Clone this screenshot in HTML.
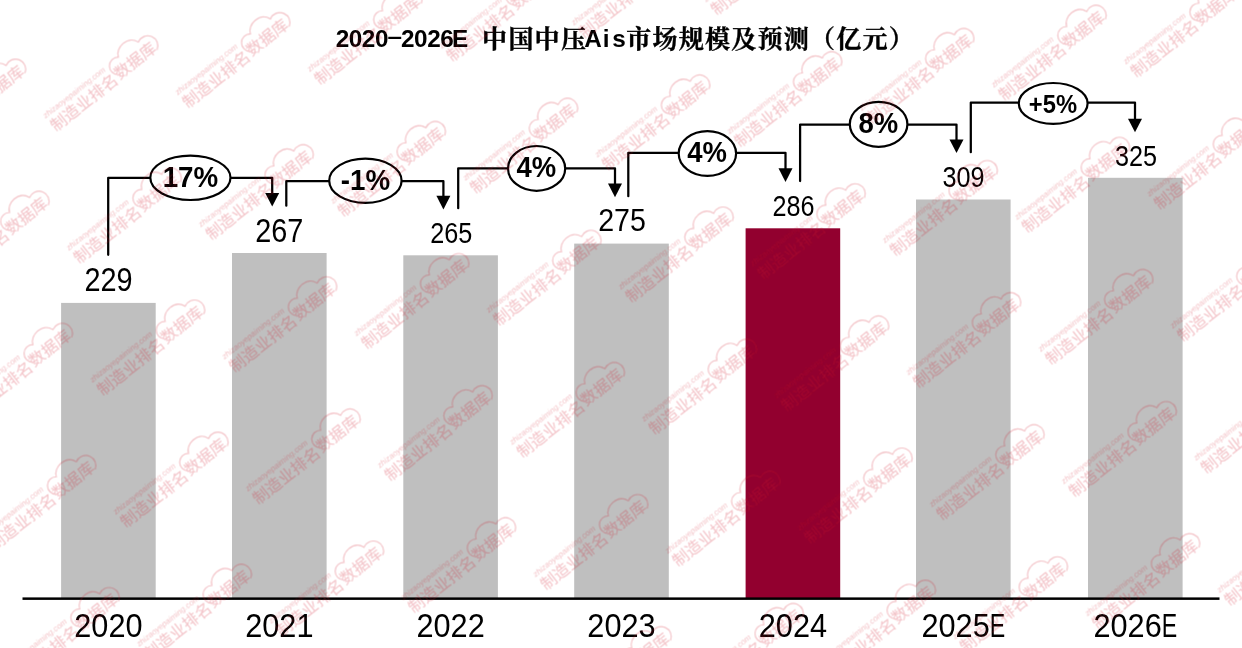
<!DOCTYPE html>
<html lang="zh-CN">
<head>
<meta charset="utf-8">
<title>2020-2026E 中国中压Ais市场规模及预测（亿元）</title>
<style>
html,body{margin:0;padding:0;background:#fff;}
body{width:1242px;height:648px;overflow:hidden;}
svg{display:block;}
.ax{font-family:"Liberation Sans","Noto Sans CJK SC",sans-serif;fill:#000;}
.dl{font-family:"Liberation Sans","Noto Sans CJK SC",sans-serif;fill:#000;}
.pc{font-family:"Liberation Sans","Noto Sans CJK SC",sans-serif;font-weight:bold;fill:#000;}
.tt{font-family:"Liberation Sans","Noto Serif CJK SC",serif;font-weight:bold;fill:#000;}
.wm{font-family:"Liberation Sans","Noto Sans CJK SC",sans-serif;fill:#d62a3a;}
.ln{fill:none;stroke:#000;stroke-width:2.25;stroke-linejoin:round;stroke-linecap:round;}
</style>
</head>
<body>
<svg width="1242" height="648" viewBox="0 0 1242 648">
<rect x="0" y="0" width="1242" height="648" fill="#ffffff"/>

<g id="bars">
<rect x="61.1" y="302.9" width="94.6" height="295.3" fill="#bfbfbf"/>
<rect x="232.0" y="253.0" width="94.6" height="345.2" fill="#bfbfbf"/>
<rect x="403.3" y="255.3" width="94.6" height="342.9" fill="#bfbfbf"/>
<rect x="574.2" y="243.6" width="94.6" height="354.6" fill="#bfbfbf"/>
<rect x="745.6" y="228.3" width="94.6" height="369.9" fill="#92002f"/>
<rect x="916.0" y="199.5" width="94.6" height="398.7" fill="#bfbfbf"/>
<rect x="1088.0" y="177.8" width="94.6" height="420.4" fill="#bfbfbf"/>
</g>
<rect x="22.5" y="597.4" width="1197" height="2.5" fill="#000"/>
<g class="ax" font-size="33.4" text-anchor="middle">
<text transform="translate(108.4 636.8) scale(0.92 1)">2020</text>
<text transform="translate(279.3 636.8) scale(0.92 1)">2021</text>
<text transform="translate(450.6 636.8) scale(0.92 1)">2022</text>
<text transform="translate(621.5 636.8) scale(0.92 1)">2023</text>
<text transform="translate(792.9 636.8) scale(0.92 1)">2024</text>
<text transform="translate(963.3 636.8) scale(0.92 1)">2025<tspan textLength="16.8" lengthAdjust="spacingAndGlyphs">E</tspan></text>
<text transform="translate(1135.3 636.8) scale(0.92 1)">2026<tspan textLength="16.8" lengthAdjust="spacingAndGlyphs">E</tspan></text>
</g>
<g class="dl" text-anchor="middle">
<text transform="translate(108.5 290.5) scale(0.885 1)" font-size="32.6">229</text>
<text transform="translate(279.2 241.6) scale(0.885 1)" font-size="32.6">267</text>
<text transform="translate(451.2 243.0) scale(0.852 1)" font-size="29.6">265</text>
<text transform="translate(622 230.8) scale(0.885 1)" font-size="32.3">275</text>
<text transform="translate(793.6 215.6) scale(0.852 1)" font-size="29.6">286</text>
<text transform="translate(963.6 186.9) scale(0.852 1)" font-size="29.6">309</text>
<text transform="translate(1135.9 165.8) scale(0.852 1)" font-size="29.6">325</text>
</g>
<g id="connectors">
<path class="ln" d="M108.2 254.8V177.8H272.2V196.5"/>
<path d="M265.2 192.9H279.2L272.2 206.5Z" fill="#000"/>
<ellipse cx="190.4" cy="177.8" rx="40.1" ry="22.2" fill="#fff" stroke="#000" stroke-width="2.2"/>
<text class="pc" transform="translate(190.4 186.8) scale(0.925 1)" font-size="30.0" text-anchor="middle">17%</text>
<path class="ln" d="M286.3 205.7V181.2H443.4V199.4"/>
<path d="M436.4 195.8H450.4L443.4 209.4Z" fill="#000"/>
<ellipse cx="365.4" cy="180.7" rx="36.2" ry="22.1" fill="#fff" stroke="#000" stroke-width="2.2"/>
<text class="pc" transform="translate(365.4 189.7) scale(0.925 1)" font-size="30.0" text-anchor="middle">-1%</text>
<path class="ln" d="M458.2 208.2V168.3H615.0V187.2"/>
<path d="M608.0 183.6H622.0L615.0 197.2Z" fill="#000"/>
<ellipse cx="536.6" cy="168.4" rx="28.6" ry="22.4" fill="#fff" stroke="#000" stroke-width="2.2"/>
<text class="pc" transform="translate(536.3000000000001 177.3) scale(0.925 1)" font-size="29.7" text-anchor="middle">4%</text>
<path class="ln" d="M628.3 196.2V152.8H785.5V171.9"/>
<path d="M778.5 168.3H792.5L785.5 181.9Z" fill="#000"/>
<ellipse cx="707.4" cy="153.5" rx="28.7" ry="22.4" fill="#fff" stroke="#000" stroke-width="2.2"/>
<text class="pc" transform="translate(707.1 162.4) scale(0.925 1)" font-size="29.7" text-anchor="middle">4%</text>
<path class="ln" d="M800.1 181.1V124.6H956.5V143.1"/>
<path d="M949.5 139.5H963.5L956.5 153.1Z" fill="#000"/>
<ellipse cx="878.6" cy="124.3" rx="28.8" ry="22.5" fill="#fff" stroke="#000" stroke-width="2.2"/>
<text class="pc" transform="translate(878.3000000000001 133.2) scale(0.925 1)" font-size="29.7" text-anchor="middle">8%</text>
<path class="ln" d="M970.8 152.2V102.6H1135.0V122.3"/>
<path d="M1128.0 118.7H1142.0L1135.0 132.3Z" fill="#000"/>
<ellipse cx="1053.2" cy="103.4" rx="34.4" ry="20.4" fill="#fff" stroke="#000" stroke-width="2.2"/>
<text class="pc" transform="translate(1052.9 112.7) scale(0.925 1)" font-size="25.7" text-anchor="middle">+5%</text>
</g>
<g class="tt">
<text text-anchor="middle"><tspan x="342.5 355.6 368.6 381.7" y="47.2" font-size="24.3">2020</tspan><tspan x="394.7" y="43.0" font-size="18" textLength="17" lengthAdjust="spacingAndGlyphs">-</tspan><tspan x="407.8 420.8 433.9 446.9 460.0 473.0" y="47.2" font-size="24.3">2026E </tspan><tspan x="494.6 520.9 547.1 573.4" y="48.4" font-size="25" stroke="#000" stroke-width="0.35">中国中压</tspan><tspan x="593.0 606.1 619.1" y="47.2" font-size="24.3">Ais</tspan><tspan x="638.8 665.0 691.2 717.5 743.8 770.0 796.2 822.5 848.8 875.0 901.2" y="48.4" font-size="25" stroke="#000" stroke-width="0.35">市场规模及预测（亿元）</tspan></text>
</g>
<defs><filter id="bl" x="-5%" y="-5%" width="110%" height="110%"><feGaussianBlur stdDeviation="0.9"/></filter><g id="wm" class="wm"><text x="0.4" y="-17.2" font-size="8" font-style="italic">zhizaoyepaiming.com</text><text x="0" y="0" font-size="16.2" font-weight="400">制造业排名</text><text x="82.5" y="-1.6" font-size="16" font-weight="400">数据库</text><path d="M84.5 -6.6 A8 8 0 0 1 95.5 -20.4 C98.5 -29.4 116 -32.2 120.5 -19.8 A9.8 9.8 0 1 1 130.5 -2.1" fill="none" stroke="#d62a3a" stroke-width="1.15"/></g></defs>
<defs><g id="wmAll">
<use href="#wm" transform="translate(-138.2 575.0) rotate(-38.2)"/>
<use href="#wm" transform="translate(-114.8 707.1) rotate(-38.2)"/>
<use href="#wm" transform="translate(-99.7 23.4) rotate(-38.2)"/>
<use href="#wm" transform="translate(-76.3 155.5) rotate(-38.2)"/>
<use href="#wm" transform="translate(-52.9 287.6) rotate(-38.2)"/>
<use href="#wm" transform="translate(-29.5 419.7) rotate(-38.2)"/>
<use href="#wm" transform="translate(-6.1 551.8) rotate(-38.2)"/>
<use href="#wm" transform="translate(17.3 683.9) rotate(-38.2)"/>
<use href="#wm" transform="translate(32.5 0.2) rotate(-38.2)"/>
<use href="#wm" transform="translate(55.9 132.2) rotate(-38.2)"/>
<use href="#wm" transform="translate(79.3 264.4) rotate(-38.2)"/>
<use href="#wm" transform="translate(102.7 396.4) rotate(-38.2)"/>
<use href="#wm" transform="translate(126.1 528.5) rotate(-38.2)"/>
<use href="#wm" transform="translate(149.5 660.6) rotate(-38.2)"/>
<use href="#wm" transform="translate(188.0 109.0) rotate(-38.2)"/>
<use href="#wm" transform="translate(211.4 241.1) rotate(-38.2)"/>
<use href="#wm" transform="translate(234.8 373.2) rotate(-38.2)"/>
<use href="#wm" transform="translate(258.2 505.3) rotate(-38.2)"/>
<use href="#wm" transform="translate(281.6 637.4) rotate(-38.2)"/>
<use href="#wm" transform="translate(320.1 85.8) rotate(-38.2)"/>
<use href="#wm" transform="translate(343.5 217.8) rotate(-38.2)"/>
<use href="#wm" transform="translate(366.9 349.9) rotate(-38.2)"/>
<use href="#wm" transform="translate(390.3 482.0) rotate(-38.2)"/>
<use href="#wm" transform="translate(413.7 614.1) rotate(-38.2)"/>
<use href="#wm" transform="translate(437.1 746.2) rotate(-38.2)"/>
<use href="#wm" transform="translate(452.3 62.5) rotate(-38.2)"/>
<use href="#wm" transform="translate(475.7 194.6) rotate(-38.2)"/>
<use href="#wm" transform="translate(499.1 326.7) rotate(-38.2)"/>
<use href="#wm" transform="translate(522.5 458.8) rotate(-38.2)"/>
<use href="#wm" transform="translate(545.9 590.9) rotate(-38.2)"/>
<use href="#wm" transform="translate(569.3 723.0) rotate(-38.2)"/>
<use href="#wm" transform="translate(584.4 39.2) rotate(-38.2)"/>
<use href="#wm" transform="translate(607.8 171.3) rotate(-38.2)"/>
<use href="#wm" transform="translate(631.2 303.4) rotate(-38.2)"/>
<use href="#wm" transform="translate(654.6 435.5) rotate(-38.2)"/>
<use href="#wm" transform="translate(678.0 567.6) rotate(-38.2)"/>
<use href="#wm" transform="translate(701.4 699.8) rotate(-38.2)"/>
<use href="#wm" transform="translate(716.5 16.0) rotate(-38.2)"/>
<use href="#wm" transform="translate(739.9 148.1) rotate(-38.2)"/>
<use href="#wm" transform="translate(763.3 280.2) rotate(-38.2)"/>
<use href="#wm" transform="translate(786.7 412.3) rotate(-38.2)"/>
<use href="#wm" transform="translate(810.1 544.4) rotate(-38.2)"/>
<use href="#wm" transform="translate(833.5 676.5) rotate(-38.2)"/>
<use href="#wm" transform="translate(848.6 -7.2) rotate(-38.2)"/>
<use href="#wm" transform="translate(872.0 124.8) rotate(-38.2)"/>
<use href="#wm" transform="translate(895.4 256.9) rotate(-38.2)"/>
<use href="#wm" transform="translate(918.8 389.0) rotate(-38.2)"/>
<use href="#wm" transform="translate(942.2 521.1) rotate(-38.2)"/>
<use href="#wm" transform="translate(965.6 653.2) rotate(-38.2)"/>
<use href="#wm" transform="translate(1004.2 101.6) rotate(-38.2)"/>
<use href="#wm" transform="translate(1027.6 233.7) rotate(-38.2)"/>
<use href="#wm" transform="translate(1051.0 365.8) rotate(-38.2)"/>
<use href="#wm" transform="translate(1074.4 497.9) rotate(-38.2)"/>
<use href="#wm" transform="translate(1097.8 630.0) rotate(-38.2)"/>
<use href="#wm" transform="translate(1121.2 762.1) rotate(-38.2)"/>
<use href="#wm" transform="translate(1136.3 78.3) rotate(-38.2)"/>
<use href="#wm" transform="translate(1159.7 210.4) rotate(-38.2)"/>
<use href="#wm" transform="translate(1183.1 342.5) rotate(-38.2)"/>
<use href="#wm" transform="translate(1206.5 474.6) rotate(-38.2)"/>
<use href="#wm" transform="translate(1229.9 606.8) rotate(-38.2)"/>
<use href="#wm" transform="translate(1253.3 738.8) rotate(-38.2)"/>
</g></defs>
<g id="watermarks">
<use href="#wmAll" transform="translate(-0.5 -0.5)" opacity="0.072"/>
<use href="#wmAll" transform="translate(0.5 -0.5)" opacity="0.072"/>
<use href="#wmAll" transform="translate(-0.5 0.5)" opacity="0.072"/>
<use href="#wmAll" transform="translate(0.5 0.5)" opacity="0.072"/>
</g>
</svg>
</body>
</html>
